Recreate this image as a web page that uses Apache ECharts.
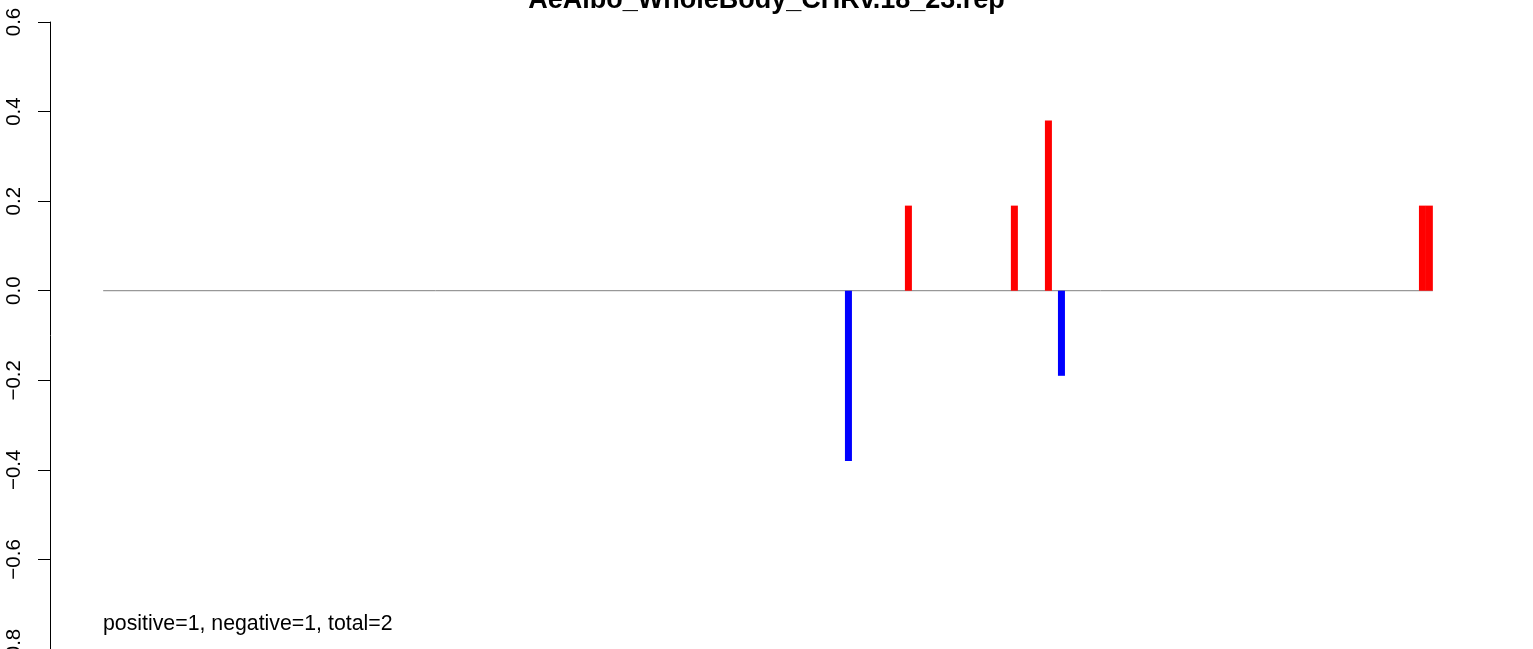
<!DOCTYPE html>
<html>
<head>
<meta charset="utf-8">
<script src="https://cdn.jsdelivr.net/npm/echarts@6/dist/echarts.min.js"></script>
<style>html,body{margin:0;padding:0;background:#fff;}#c{width:1533px;height:649px;}</style>
</head>
<body>
<div id="c"></div>
<script>
// Data
var titleText = 'AeAlbo_WholeBody_CHRv.18_23.rep';
var summaryText = 'positive=1, negative=1, total=2';
var positions = [560.5, 605.6, 685.3, 710.9, 720.7, 992.2, 997.4];
var values    = [-0.38, 0.19, 0.19, 0.38, -0.19, 0.19, 0.19];
var yTicks = [-0.8, -0.6, -0.4, -0.2, 0.0, 0.2, 0.4, 0.6];
var baseRange = [0, 1000];

var chart = echarts.init(document.getElementById('c'), null, {renderer: 'canvas'});
var barData = positions.map(function (p, i) {
  return {value: [p, values[i]], itemStyle: {color: values[i] >= 0 ? '#FF0000' : '#0000FF'}};
});
var font = '"Liberation Sans", Arial, Helvetica, sans-serif';
chart.setOption({
  animation: false,
  backgroundColor: '#ffffff',
  grid: {left: 50, right: 47, top: 22, bottom: 0, containLabel: false, outerBoundsMode: 'none'},
  xAxis: {
    type: 'value', min: -40, max: 1040, show: false
  },
  yAxis: {
    type: 'value', min: yTicks[0], max: yTicks[yTicks.length - 1], interval: 0.2,
    axisLine: {show: true, onZero: false, lineStyle: {color: '#000', width: 1}},
    axisTick: {show: true, length: 12, lineStyle: {color: '#000', width: 1}},
    splitLine: {show: false},
    axisLabel: {
      rotate: 90, margin: 25, color: '#000', fontSize: 20.5, fontFamily: font,
      showMinLabel: true, showMaxLabel: true,
      formatter: function (v) {
        var s = (Math.round(v * 10) / 10).toFixed(1);
        return s.replace('-', '\u2212');
      }
    }
  },
  graphic: [
    {type: 'text', left: 'center', top: -13, style: {text: titleText, fontSize: 27, fontWeight: 'bold', fontFamily: font, fill: '#000'}},
    {type: 'text', left: 103, top: 614, style: {text: summaryText, fontSize: 21.3, fontFamily: font, fill: '#000'}}
  ],
  series: [
    {
      type: 'line', data: [[baseRange[0], 0], [baseRange[1], 0]], symbol: 'none',
      lineStyle: {color: '#808080', width: 1}, z: 1
    },
    {
      type: 'bar', data: barData, barWidth: 7, z: 2
    }
  ]
});
</script>
</body>
</html>
